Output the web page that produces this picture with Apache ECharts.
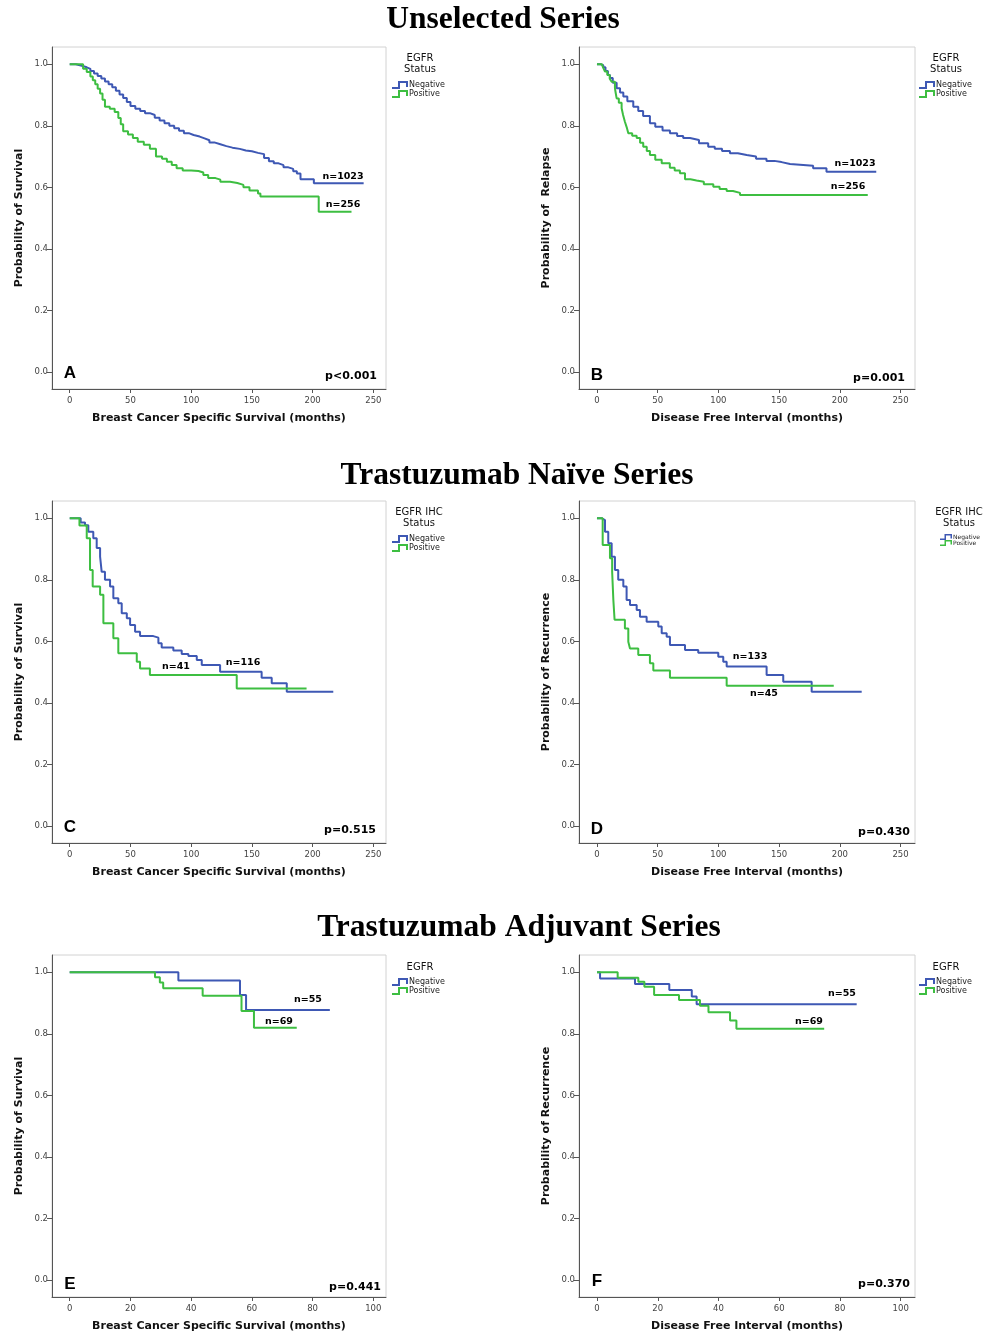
<!DOCTYPE html>
<html>
<head>
<meta charset="utf-8">
<script src="https://cdn.jsdelivr.net/npm/echarts@6/dist/echarts.min.js"></script>
<style>
  html, body { margin: 0; padding: 0; background: #fff; }
  #chart { width: 984px; height: 1338px; }
</style>
</head>
<body>
<div id="chart"></div>
<script>
// 颜色
var blue = '#3E58B4'
var green = '#3DBE41'

// 刻度
var ticks250 = [0, 50, 100, 150, 200, 250]
var ticks100 = [0, 20, 40, 60, 80, 100]
var yTicks = [0, 0.2, 0.4, 0.6, 0.8, 1.0]

// A: Unselected, BCSS
var aNeg = [[0,1],[5,0.995],[10,0.99],[14,0.985],[17,0.978],[20,0.97],[23,0.962],[26,0.954],[29,0.944],[32,0.935],[35,0.925],[38,0.914],[41,0.902],[44,0.89],[47,0.877],[50,0.864],[54,0.855],[58,0.848],[62,0.841],[66,0.835],[70,0.826],[74,0.817],[78,0.808],[82,0.8],[86,0.792],[90,0.784],[94,0.776],[98,0.77],[102,0.765],[107,0.759],[111,0.753],[115,0.746],[119,0.74],[124,0.734],[129,0.729],[134,0.725],[140,0.72],[145,0.717],[150,0.712],[155,0.708],[160,0.695],[164,0.685],[168,0.678],[172,0.672],[176,0.665],[180,0.66],[184,0.652],[187,0.645],[190,0.626],[201,0.613],[242,0.613]]
var aPos = [[0,1],[8,1],[11,0.985],[14,0.975],[17,0.96],[19,0.948],[21,0.935],[23,0.92],[25,0.905],[27,0.885],[29,0.862],[33,0.855],[37,0.845],[40,0.825],[42,0.805],[44,0.782],[48,0.772],[52,0.76],[56,0.748],[61,0.738],[66,0.725],[71,0.7],[76,0.693],[80,0.683],[84,0.673],[88,0.662],[93,0.655],[100,0.653],[106,0.648],[110,0.64],[114,0.63],[120,0.625],[124,0.618],[132,0.614],[138,0.608],[143,0.6],[148,0.59],[155,0.58],[157,0.57],[205,0.521],[232,0.521]]

// B: Unselected, DFI
var bNeg = [[0,1],[3,0.997],[5.2,0.99],[7,0.978],[9,0.965],[10.7,0.955],[13,0.94],[16.2,0.922],[19,0.908],[21.7,0.895],[25,0.88],[29.9,0.862],[34,0.848],[38,0.832],[43.6,0.808],[48,0.797],[54,0.785],[60.1,0.776],[66,0.767],[71,0.76],[76.6,0.754],[84,0.743],[91.6,0.732],[97,0.725],[103,0.718],[109.5,0.711],[116,0.705],[123.3,0.7],[131,0.693],[139.6,0.686],[146,0.682],[152,0.676],[159,0.67],[178,0.662],[189,0.651],[230,0.651]]
var bPos = [[0,1],[4,1],[5,0.99],[6.6,0.976],[8.5,0.965],[10.5,0.953],[12.1,0.943],[14.8,0.922],[15.5,0.905],[16.2,0.889],[18,0.875],[20.3,0.857],[21.5,0.835],[23,0.813],[24.5,0.795],[25.8,0.776],[29,0.768],[32.7,0.76],[35.5,0.745],[38.1,0.732],[41,0.718],[43.6,0.705],[48,0.69],[53.3,0.678],[60,0.664],[64,0.655],[68.3,0.646],[72.5,0.626],[77,0.622],[82,0.618],[88,0.61],[95.8,0.602],[101,0.595],[106.8,0.588],[112,0.582],[117.8,0.575],[223,0.575]]

// C: Trastuzumab naive, BCSS
var cNeg = [[0,1],[9,0.986],[12.6,0.977],[15.3,0.956],[19.4,0.935],[22.2,0.903],[25,0.875],[26.3,0.826],[29,0.8],[33.2,0.778],[35.9,0.74],[40,0.724],[42.8,0.691],[47,0.675],[49.7,0.653],[53.8,0.631],[57.9,0.617],[68.8,0.612],[73,0.594],[75.7,0.58],[85.3,0.57],[92.2,0.559],[97.7,0.552],[104.6,0.539],[108.7,0.523],[123.8,0.501],[158,0.482],[166.3,0.464],[178.7,0.436],[217,0.436]]
var cPos = [[0,1],[8,0.976],[14,0.935],[16.7,0.832],[18.9,0.778],[25,0.751],[27.7,0.659],[35.9,0.61],[40,0.561],[55.2,0.534],[57.9,0.512],[66,0.491],[137.5,0.447],[195,0.447]]

// D: Trastuzumab naive, DFI
var dNeg = [[0,1],[3.8,0.994],[6.6,0.956],[9.3,0.919],[12.1,0.875],[14.8,0.832],[17.5,0.8],[21.7,0.778],[24.4,0.734],[27.2,0.718],[32.7,0.702],[35.4,0.68],[40.9,0.664],[50.5,0.648],[53.3,0.626],[57.4,0.615],[60.1,0.588],[72.5,0.572],[83.4,0.563],[99.9,0.55],[104,0.534],[106.8,0.518],[139.7,0.491],[153.4,0.469],[176.8,0.436],[218,0.436]]
var dPos = [[0,1],[4.7,0.913],[10.7,0.87],[12.5,0.826],[13.5,0.734],[14.5,0.67],[23,0.642],[25.8,0.599],[27.2,0.577],[34,0.556],[43.6,0.529],[46.4,0.505],[60.1,0.482],[106.8,0.456],[195,0.456]]

// E: Trastuzumab adjuvant, BCSS
var eNeg = [[0,1],[35.8,0.973],[56.1,0.926],[58.1,0.877],[85.7,0.877]]
var ePos = [[0,1],[28.1,0.984],[29.7,0.967],[30.8,0.948],[43.8,0.924],[56.6,0.874],[60.7,0.82],[74.8,0.82]]

// F: Trastuzumab adjuvant, DFI
var fNeg = [[0,1],[1,0.98],[12.5,0.962],[23.8,0.942],[31.2,0.921],[32.8,0.896],[85.5,0.896]]
var fPos = [[0,1],[6.8,0.982],[13.6,0.969],[15.6,0.953],[18.8,0.926],[27,0.91],[33.9,0.891],[36.7,0.87],[43.8,0.843],[45.9,0.816],[74.8,0.816]]

// 面板布局
var panels = [
  { left: 52, top: 47, width: 334, xmin: -14.6, xmax: 260.4, ticks: ticks250, neg: aNeg, pos: aPos,
    yName: 'Probability of Survival', xName: 'Breast Cancer Specific Survival (months)',
    letter: 'A', p: 'p<0.001', px: 377, py: 376,
    legTitle: ['EGFR', 'Status'], legX: 420, legY: 58, legLeft: 392, legTop: 81, small: false,
    nNeg: ['n=1023', 343, 177], nPos: ['n=256', 343, 205] },
  { left: 579, top: 47, width: 336, xmin: -14.8, xmax: 261.9, ticks: ticks250, neg: bNeg, pos: bPos,
    yName: 'Probability of  Relapse', xName: 'Disease Free Interval (months)',
    letter: 'B', p: 'p=0.001', px: 905, py: 378,
    legTitle: ['EGFR', 'Status'], legX: 946, legY: 58, legLeft: 919, legTop: 81, small: false,
    nNeg: ['n=1023', 855, 164], nPos: ['n=256', 848, 187] },
  { left: 52, top: 501, width: 334, xmin: -14.6, xmax: 260.4, ticks: ticks250, neg: cNeg, pos: cPos,
    yName: 'Probability of Survival', xName: 'Breast Cancer Specific Survival (months)',
    letter: 'C', p: 'p=0.515', px: 376, py: 830,
    legTitle: ['EGFR IHC', 'Status'], legX: 419, legY: 512, legLeft: 392, legTop: 535, small: false,
    nNeg: ['n=116', 243, 663], nPos: ['n=41', 176, 667] },
  { left: 579, top: 501, width: 336, xmin: -14.8, xmax: 261.9, ticks: ticks250, neg: dNeg, pos: dPos,
    yName: 'Probability of Recurrence', xName: 'Disease Free Interval (months)',
    letter: 'D', p: 'p=0.430', px: 910, py: 832,
    legTitle: ['EGFR IHC', 'Status'], legX: 959, legY: 512, legLeft: 940, legTop: 534, small: true,
    nNeg: ['n=133', 750, 657], nPos: ['n=45', 764, 694] },
  { left: 52, top: 955, width: 334, xmin: -5.83, xmax: 104.2, ticks: ticks100, neg: eNeg, pos: ePos,
    yName: 'Probability of Survival', xName: 'Breast Cancer Specific Survival (months)',
    letter: 'E', p: 'p=0.441', px: 381, py: 1287,
    legTitle: ['EGFR'], legX: 420, legY: 967, legLeft: 392, legTop: 978, small: false,
    nNeg: ['n=55', 308, 1000], nPos: ['n=69', 279, 1022] },
  { left: 579, top: 955, width: 336, xmin: -5.93, xmax: 104.7, ticks: ticks100, neg: fNeg, pos: fPos,
    yName: 'Probability of Recurrence', xName: 'Disease Free Interval (months)',
    letter: 'F', p: 'p=0.370', px: 910, py: 1284,
    legTitle: ['EGFR'], legX: 946, legY: 967, legLeft: 919, legTop: 978, small: false,
    nNeg: ['n=55', 842, 994], nPos: ['n=69', 809, 1022] }
]

var axisColor = '#555'
var stepIcon = 'path://M0,6 L6,6 L6,0 L16,0 L16,6 L14,6 L14,2 L8,2 L8,8 L0,8 Z'

var grid = [], xAxis = [], yAxis = [], series = [], legend = [], graphic = []

function txt(text, x, y, font, align, color) {
  return {
    type: 'text', x: x, y: y, silent: true,
    style: { text: text, font: font, fill: color || '#000', textAlign: align || 'center', textVerticalAlign: 'middle' }
  }
}

// 大标题
graphic.push(txt('Unselected Series', 503, 20, 'bold 31.5px "Liberation Serif"'))
graphic.push(txt('Trastuzumab Na\u00efve Series', 517, 476, 'bold 31.5px "Liberation Serif"'))
graphic.push(txt('Trastuzumab Adjuvant Series', 519, 928, 'bold 31.5px "Liberation Serif"'))

panels.forEach(function (p, i) {
  grid.push({
    left: p.left, top: p.top, width: p.width, height: 342,
    show: true, borderColor: '#d2d2d2', borderWidth: 1, backgroundColor: 'transparent'
  })
  xAxis.push({
    type: 'value', gridIndex: i, min: p.xmin, max: p.xmax,
    name: p.xName, nameLocation: 'middle', nameGap: 24,
    nameTextStyle: { fontFamily: 'DejaVu Sans', fontWeight: 'bold', fontSize: 11, color: '#111' },
    axisLine: { show: true, onZero: false, lineStyle: { color: axisColor, width: 1 } },
    axisTick: { show: true, length: 4, customValues: p.ticks, lineStyle: { color: axisColor } },
    axisLabel: { customValues: p.ticks, fontFamily: 'DejaVu Sans', fontSize: 8.5, color: '#444', margin: 7 },
    splitLine: { show: false }
  })
  yAxis.push({
    type: 'value', gridIndex: i, min: -0.0552, max: 1.056,
    name: p.yName, nameLocation: 'middle', nameGap: 27, nameRotate: 90,
    nameTextStyle: { fontFamily: 'DejaVu Sans', fontWeight: 'bold', fontSize: 11, color: '#111' },
    axisLine: { show: true, onZero: false, lineStyle: { color: axisColor, width: 1 } },
    axisTick: { show: true, length: 5, customValues: yTicks, lineStyle: { color: axisColor } },
    axisLabel: {
      customValues: yTicks, fontFamily: 'DejaVu Sans', fontSize: 8.5, color: '#444', margin: 4,
      formatter: function (v) { return v.toFixed(1) }
    },
    splitLine: { show: false }
  })
  series.push({
    name: 'Negative', type: 'line', step: 'end', xAxisIndex: i, yAxisIndex: i,
    showSymbol: false, color: blue, lineStyle: { width: 2, color: blue }, data: p.neg
  })
  series.push({
    name: 'Positive', type: 'line', step: 'end', xAxisIndex: i, yAxisIndex: i,
    showSymbol: false, color: green, lineStyle: { width: 2, color: green }, data: p.pos
  })
  legend.push({
    left: p.legLeft, top: p.legTop, orient: 'vertical', selectedMode: false,
    icon: stepIcon,
    itemWidth: p.small ? 12 : 16, itemHeight: p.small ? 6 : 8, itemGap: p.small ? 0 : 1,
    padding: 0,
    textStyle: { fontFamily: 'DejaVu Sans', fontSize: p.small ? 6 : 8, color: '#222', padding: [0, 0, 0, -4] },
    data: ['Negative', 'Positive']
  })
  p.legTitle.forEach(function (t, k) {
    graphic.push(txt(t, p.legX, p.legY + k * 11, '10px "DejaVu Sans"', 'center', '#111'))
  })
  graphic.push(txt(p.letter, p.left + 18, p.py - 3, 'bold 17px "Liberation Sans"', 'center'))
  graphic.push(txt(p.p, p.px, p.py, 'bold 11px "DejaVu Sans"', 'right'))
  graphic.push(txt(p.nNeg[0], p.nNeg[1], p.nNeg[2], 'bold 9.5px "DejaVu Sans"', 'center'))
  graphic.push(txt(p.nPos[0], p.nPos[1], p.nPos[2], 'bold 9.5px "DejaVu Sans"', 'center'))
})

var option = {
  animation: false,
  backgroundColor: '#fff',
  grid: grid,
  xAxis: xAxis,
  yAxis: yAxis,
  legend: legend,
  series: series,
  graphic: graphic
}

var chart = echarts.init(document.getElementById('chart'))
chart.setOption(option)
</script>
</body>
</html>
